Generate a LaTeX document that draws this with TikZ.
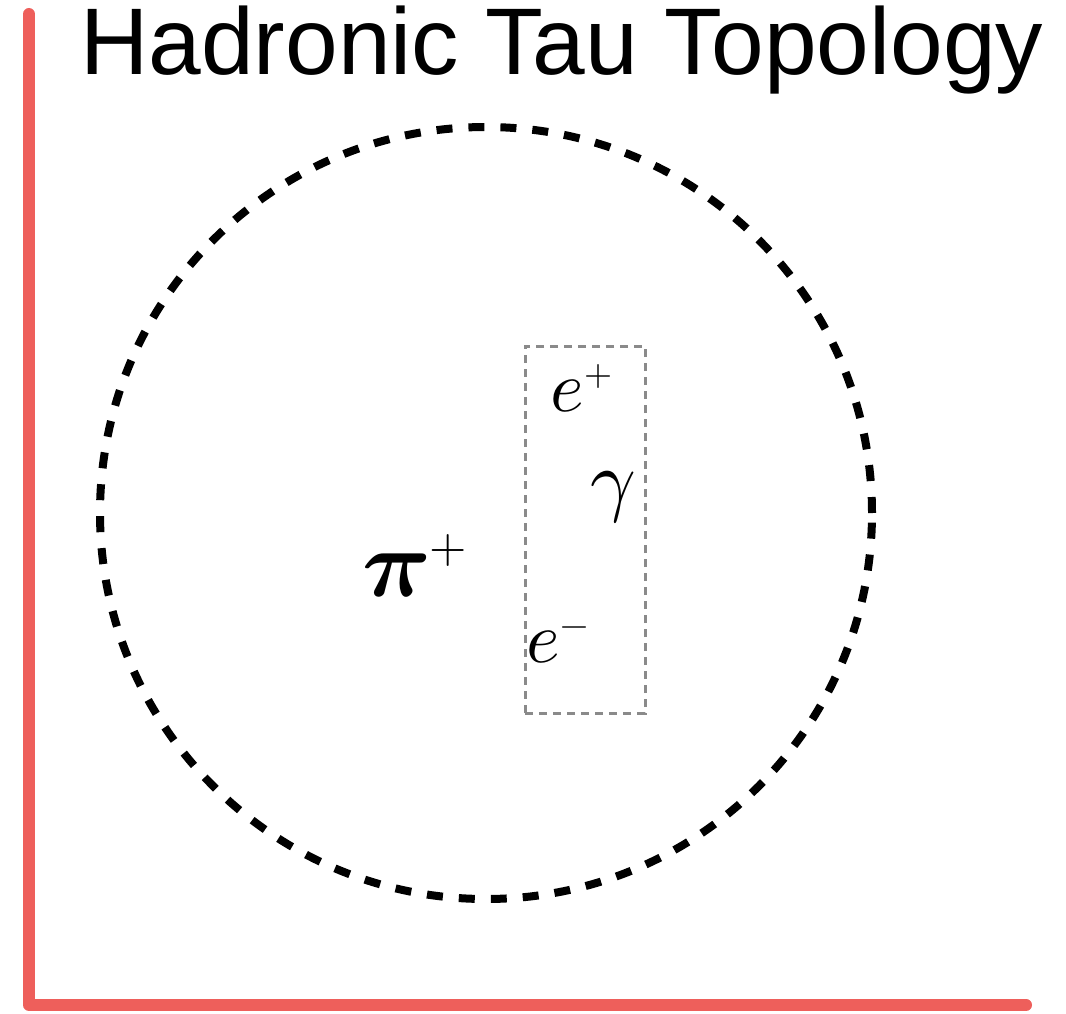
\documentclass[tikz,border=0pt]{standalone}
\usepackage{fontspec}
\setmainfont{Liberation Sans}
\usepackage{unicode-math}
\setmathfont{Latin Modern Math}
\definecolor{axisred}{HTML}{EE5F5B}
\definecolor{boxgray}{HTML}{8A8A8A}
\begin{document}
\begin{tikzpicture}[x=0.75pt,y=-0.75pt,
  axisline/.style={draw=axisred,line width=9pt,line cap=round,line join=round},
  conecircle/.style={draw=black,line width=6pt,dash pattern=on 12pt off 12pt},
  gammabox/.style={draw=boxgray,line width=2.25pt,dash pattern=on 6pt off 4.5pt},
  lbl/.style={inner sep=0pt,font=\fontsize{54}{54}\selectfont}]
\useasboundingbox (0,0) rectangle (1066,1013);
\coordinate (top) at (29,14);
\coordinate (corner) at (29,1005);
\coordinate (right) at (1026,1005);
\draw[axisline] (top) -- (corner) -- (right);
\node[anchor=base west,inner sep=0pt,font=\fontsize{71}{71}\selectfont] (title) at (80,75) {Hadronic Tau Topology};
\node[conecircle,circle,minimum size=772*0.75pt,inner sep=0pt] (cone) at (486,513) {};
\node[gammabox,rectangle,minimum width=120*0.75pt,minimum height=367*0.75pt,inner sep=0pt] (box) at (585,529.5) {};
\node[lbl] (ep) at (582,388) {$e^{\scriptscriptstyle +}$};
\node[lbl,font=\fontsize{60}{60}\selectfont] (gam) at (613,497) {$\gamma$};
\node[lbl] (em) at (558,645) {$e^{\scriptscriptstyle -}$};
\node[lbl,font=\fontsize{72}{72}\selectfont] (pi) at (415,566) {$\symbfit{\pi}^{\scriptscriptstyle +}$};
\end{tikzpicture}
\end{document}
